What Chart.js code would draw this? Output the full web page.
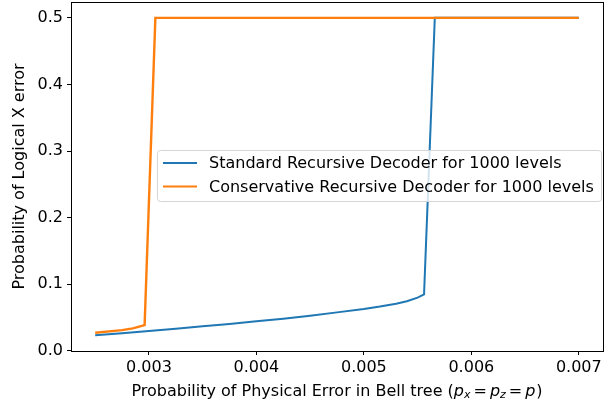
<!DOCTYPE html>
<html>
<head>
<meta charset="utf-8">
<script src="https://cdn.jsdelivr.net/npm/chart.js@4"></script>
<style>
  html, body { margin: 0; padding: 0; background: #fff; }
  #wrap { width: 608px; height: 410px; }
</style>
</head>
<body>
<div id="wrap"><canvas id="chart" width="608" height="410"></canvas></div>
<script>
// Standard recursive decoder (blue)
const standardX = [0.0025, 0.00275, 0.003, 0.00325, 0.0035, 0.00375, 0.004, 0.00425, 0.0045, 0.00475, 0.005, 0.00515, 0.0053, 0.0054, 0.0055, 0.00556, 0.00566, 0.007];
const standardY = [0.0236, 0.0265, 0.0297, 0.0332, 0.0368, 0.0405, 0.0443, 0.0483, 0.0527, 0.0578, 0.0628, 0.0665, 0.0708, 0.0745, 0.0800, 0.0848, 0.5, 0.5];

// Conservative recursive decoder (orange)
const conservX = [0.0025, 0.00275, 0.00285, 0.00296, 0.00306, 0.007];
const conservY = [0.0271, 0.0312, 0.0338, 0.0387, 0.5, 0.5];

const seriesLabels = ["Standard Recursive Decoder for 1000 levels", "Conservative Recursive Decoder for 1000 levels"];
const xTicks = [0.003, 0.004, 0.005, 0.006, 0.007];
const yTicks = [0.0, 0.1, 0.2, 0.3, 0.4, 0.5];

const FONT = "DejaVu Sans";
const FS = 16;

function points(xs, ys) {
  return xs.map((x, i) => ({ x: x, y: ys[i] }));
}

// box around the plot area (matplotlib style spines)
const frame = {
  id: "frame",
  afterDatasetsDraw(chart) {
    const { ctx, chartArea: a } = chart;
    ctx.save();
    ctx.strokeStyle = "#000";
    ctx.lineWidth = 1;
    ctx.strokeRect(Math.round(a.left) + 0.5, Math.round(a.top) + 0.5, Math.round(a.right - a.left), Math.round(a.bottom - a.top));
    ctx.restore();
  }
};

// legend box sitting in the middle of the axes
const innerLegend = {
  id: "innerLegend",
  afterDraw(chart) {
    const ctx = chart.ctx;
    const x0 = 157.5, y0 = 150.5, w = 444, h = 51;
    ctx.save();
    ctx.beginPath();
    ctx.roundRect(x0, y0, w, h, 3);
    ctx.fillStyle = "rgba(255,255,255,0.8)";
    ctx.fill();
    ctx.strokeStyle = "#d5d5d5";
    ctx.lineWidth = 1;
    ctx.stroke();
    ctx.font = FS + "px '" + FONT + "'";
    ctx.textBaseline = "middle";
    chart.data.datasets.forEach((ds, i) => {
      const y = 163 + i * 23.5;
      ctx.strokeStyle = ds.borderColor;
      ctx.lineWidth = 2;
      ctx.beginPath();
      ctx.moveTo(163, y);
      ctx.lineTo(197, y);
      ctx.stroke();
      ctx.fillStyle = "#000";
      ctx.fillText(ds.label, 209, y + 1);
    });
    ctx.restore();
  }
};

// x axis title with the italic / subscript math part
const xTitle = {
  id: "xTitle",
  afterDraw(chart) {
    const ctx = chart.ctx;
    const a = chart.chartArea;
    const normal = FS + "px '" + FONT + "'";
    const italic = "oblique " + FS + "px '" + FONT + "'";
    const sub = "oblique " + Math.round(FS * 0.7) + "px '" + FONT + "'";
    // [text, font, baseline shift, gap after]
    const parts = [
      ["Probability of Physical Error in Bell tree (", normal, 0, 0],
      ["p", italic, 0, 0], ["x", sub, 3, 3],
      ["=", normal, 0, 3],
      ["p", italic, 0, 0], ["z", sub, 3, 3],
      ["=", normal, 0, 3],
      ["p", italic, 0, 1],
      [")", normal, 0, 0]
    ];
    ctx.save();
    let total = 0;
    parts.forEach(p => { ctx.font = p[1]; total += ctx.measureText(p[0]).width + p[3]; });
    let x = (a.left + a.right) / 2 - total / 2;
    const y = 392;
    ctx.fillStyle = "#000";
    ctx.textBaseline = "middle";
    parts.forEach(p => {
      ctx.font = p[1];
      ctx.fillText(p[0], x, y + p[2]);
      x += ctx.measureText(p[0]).width + p[3];
    });
    ctx.restore();
  }
};

new Chart(document.getElementById("chart").getContext("2d"), {
  type: "scatter",
  data: {
    datasets: [
      {
        label: seriesLabels[0],
        data: points(standardX, standardY),
        showLine: true,
        borderColor: "#1f77b4",
        backgroundColor: "#1f77b4",
        borderWidth: 2,
        pointRadius: 0,
        tension: 0,
        order: 1
      },
      {
        label: seriesLabels[1],
        data: points(conservX, conservY),
        showLine: true,
        borderColor: "#ff7f0e",
        backgroundColor: "#ff7f0e",
        borderWidth: 2.4,
        pointRadius: 0,
        tension: 0,
        order: 0
      }
    ]
  },
  options: {
    responsive: false,
    animation: false,
    layout: { padding: { top: 2, right: 5, left: 0, bottom: 0 } },
    plugins: {
      legend: { display: false },
      tooltip: { enabled: false }
    },
    scales: {
      x: {
        type: "linear",
        min: 0.002275,
        max: 0.007225,
        afterBuildTicks: s => { s.ticks = xTicks.map(v => ({ value: v })); },
        afterFit: s => { s.height = 59; s.paddingLeft = 0; s.paddingRight = 0; },
        ticks: {
          color: "#000",
          font: { family: FONT, size: FS },
          padding: 3,
          maxRotation: 0,
          callback: v => v.toFixed(3)
        },
        grid: { display: true, drawOnChartArea: false, drawTicks: true, tickLength: 4, color: "#000" },
        border: { display: false }
      },
      y: {
        min: -0.0002,
        max: 0.5238,
        afterBuildTicks: s => { s.ticks = yTicks.map(v => ({ value: v })); },
        afterFit: s => { s.width = 71; s.paddingTop = 0; s.paddingBottom = 0; },
        ticks: {
          color: "#000",
          font: { family: FONT, size: FS },
          padding: 4,
          callback: v => v.toFixed(1)
        },
        grid: { display: true, drawOnChartArea: false, drawTicks: true, tickLength: 4, color: "#000" },
        border: { display: false },
        title: {
          display: true,
          text: "Probability of Logical X error",
          color: "#000",
          font: { family: FONT, size: FS },
          padding: { top: 10, bottom: 0 }
        }
      }
    }
  },
  plugins: [frame, innerLegend, xTitle]
});
</script>
</body>
</html>
